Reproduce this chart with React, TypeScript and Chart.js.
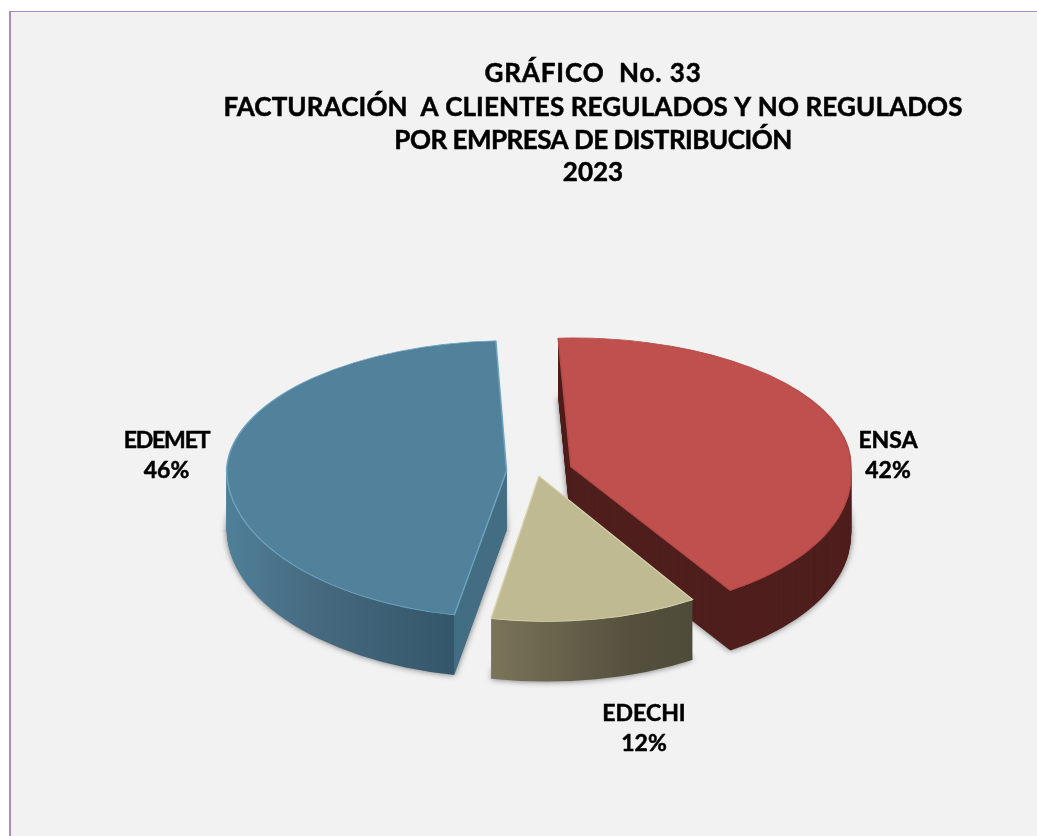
import React, { useEffect, useRef } from "react";
import { Chart, registerables } from "chart.js";

Chart.register(...registerables);

const categories = ["ENSA", "EDECHI", "EDEMET"];
const shares = [42, 12, 46];
const explode = [35, 8, 31];
const topColors = ["#bf504d", "#c0ba92", "#52829b"];
const edgeColors = ["#b24a47", "#d9d4ae", "#6ea4c0"];
const titleLines = [
  "GRÁFICO  No. 33",
  "FACTURACIÓN  A CLIENTES REGULADOS Y NO REGULADOS",
  "POR EMPRESA DE DISTRIBUCIÓN",
  "2023",
];

// layout only
const W = 1037;
const H = 836;
const TITLE_X = 593;
const TITLE_Y = [74, 108, 141, 173];
const TITLE_SPACING = ["0.9px", "0.12px", "-0.5px", "0px"];
const LABEL_X = [888, 644, 166.5];
const LABEL_Y = [441, 714, 441];
const LABEL_SPACING = ["0px", "0px", "-1.2px"];
const BACK_TILT = [0.46, 0.46, 0.465];
const FRONT_TILT = [0.52, 0.52, 0.525];
const BACK_SKEW = [-0.007, 0, -0.014];
const FRONT_SKEW = [0.05, 0.027, 0.011];
const DEPTH = 60;
const WALL_ORDER = [2, 0, 1];

function wallFill(ctx: CanvasRenderingContext2D, i: number, arc: any) {
  const R = arc.outerRadius;
  if (i === 0) return "#4f1f1d";
  if (i === 1) {
    const x0 = arc.x + R * Math.cos(arc.endAngle);
    const x1 = arc.x + R * Math.cos(arc.startAngle);
    const g = ctx.createLinearGradient(x0, 0, x1, 0);
    g.addColorStop(0, "#7b745a");
    g.addColorStop(0.7, "#54503d");
    g.addColorStop(1, "#4f4b3a");
    return g;
  }
  const x0 = arc.x - R;
  const xEdge = arc.x + R * Math.cos(arc.startAngle);
  const xEnd = arc.x + 2;
  const t = (xEdge - x0) / (xEnd - x0);
  const g = ctx.createLinearGradient(x0, 0, xEnd, 0);
  g.addColorStop(0, "#4f7f98");
  g.addColorStop(t * 0.4, "#46697f");
  g.addColorStop(t, "#33566a");
  g.addColorStop(Math.min(t + 0.001, 1), "#436d83");
  g.addColorStop(1, "#436d83");
  return g;
}

function paintSlice(
  ctx: CanvasRenderingContext2D,
  arc: any,
  i: number,
  shift: number,
  over: Record<string, unknown>,
  shadow: boolean
) {
  const d = explode[i];
  const mid = (arc.startAngle + arc.endAngle) / 2;
  const ax = arc.x + Math.cos(mid) * d;
  const ay = arc.y + Math.sin(mid) * d * 0.5 + shift;
  const original = arc.options;
  arc.options = Object.assign(Object.create(original), { offset: 0 }, over);
  [0, 1].forEach((half) => {
    ctx.save();
    ctx.beginPath();
    if (half === 0) ctx.rect(0, 0, W, ay + 0.5);
    else ctx.rect(0, ay, W, H - ay);
    ctx.clip();
    if (shadow) {
      ctx.shadowColor = "rgba(0,0,0,0.55)";
      ctx.shadowBlur = 6;
    }
    const tilt = half === 0 ? BACK_TILT[i] : FRONT_TILT[i];
    const skew = half === 0 ? BACK_SKEW[i] : FRONT_SKEW[i];
    ctx.transform(1, 0, skew, tilt, ax, ay);
    ctx.translate(-arc.x, -arc.y);
    arc.draw(ctx);
    ctx.restore();
  });
  arc.options = original;
}

function boldText(ctx: CanvasRenderingContext2D, text: string, x: number, y: number) {
  ctx.fillText(text, x, y);
  ctx.strokeText(text, x, y);
}

const tiltedPie = {
  id: "tiltedPie",
  beforeDatasetDraw(chart: any) {
    const ctx = chart.ctx as CanvasRenderingContext2D;
    const arcs = chart.getDatasetMeta(0).data;
    WALL_ORDER.forEach((i) => {
      const arc = arcs[i];
      const fill = wallFill(ctx, i, arc);
      for (let s = DEPTH; s >= 1; s--) {
        paintSlice(ctx, arc, i, s, { backgroundColor: fill, borderWidth: 0 }, s === DEPTH);
      }
      paintSlice(ctx, arc, i, 0, {}, false);
    });
    return false;
  },
  afterDraw(chart: any) {
    const ctx = chart.ctx as CanvasRenderingContext2D & { letterSpacing: string };
    ctx.save();
    ctx.fillStyle = "#000";
    ctx.strokeStyle = "#000";
    ctx.lineWidth = 0.5;
    ctx.textAlign = "center";
    ctx.textBaseline = "middle";
    ctx.font = "bold 26px Lato";
    titleLines.forEach((line, k) => {
      ctx.letterSpacing = TITLE_SPACING[k];
      boldText(ctx, line, TITLE_X, TITLE_Y[k]);
    });
    ctx.font = "bold 23px Lato";
    categories.forEach((name, k) => {
      ctx.letterSpacing = LABEL_SPACING[k];
      boldText(ctx, name, LABEL_X[k], LABEL_Y[k]);
      ctx.letterSpacing = "0px";
      boldText(ctx, `${shares[k]}%`, LABEL_X[k], LABEL_Y[k] + 30);
    });
    ctx.restore();
  },
};

export default function App() {
  const ref = useRef<HTMLCanvasElement>(null);
  useEffect(() => {
    const chart = new Chart(ref.current as HTMLCanvasElement, {
      type: "pie",
      data: {
        labels: categories,
        datasets: [
          {
            data: shares,
            backgroundColor: topColors,
            borderColor: edgeColors,
            borderWidth: 1.5,
            offset: explode,
          },
        ],
      },
      options: {
        responsive: false,
        animation: false,
        radius: 280,
        rotation: -3,
        layout: { padding: { left: 38, top: 108 } },
        plugins: { legend: { display: false }, title: { display: false }, tooltip: { enabled: false } },
      } as any,
      plugins: [tiltedPie as any],
    });
    return () => chart.destroy();
  }, []);
  return (
    <div style={{ position: "fixed", left: 0, top: 0, width: W, height: H, background: "#fff", overflow: "hidden" }}>
      <div
        style={{
          position: "absolute",
          left: 9,
          top: 11,
          right: 0,
          bottom: 0,
          background: "#f2f2f2",
          borderLeft: "2px solid #a98bbf",
          borderTop: "1px solid #a98bbf",
        }}
      />
      <canvas ref={ref} width={W} height={H} style={{ position: "absolute", left: 0, top: 0 }} />
    </div>
  );
}
